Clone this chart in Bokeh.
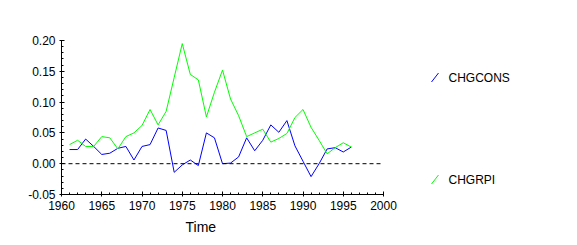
from bokeh.plotting import figure
from bokeh.models import Range1d, FixedTicker, PrintfTickFormatter, Span, Title, ColumnDataSource
from bokeh.layouts import row
from bokeh.core.properties import value
from bokeh.embed import file_html
from bokeh.resources import INLINE

years = list(range(1961, 1997))
chgcons = [0.023, 0.023, 0.040, 0.028, 0.015, 0.017, 0.025, 0.028, 0.006, 0.028,
           0.031, 0.058, 0.054, -0.014, -0.002, 0.006, -0.003, 0.050, 0.042, 0.000,
           0.001, 0.011, 0.042, 0.021, 0.038, 0.063, 0.051, 0.070, 0.029, 0.004,
           -0.021, 0.000, 0.024, 0.026, 0.019, 0.027]
chgrpi = [0.031, 0.038, 0.028, 0.028, 0.044, 0.042, 0.024, 0.044, 0.050, 0.062,
          0.088, 0.063, 0.085, 0.140, 0.195, 0.145, 0.136, 0.076, 0.116, 0.152,
          0.105, 0.078, 0.044, 0.050, 0.056, 0.035, 0.041, 0.049, 0.075, 0.088,
          0.059, 0.038, 0.016, 0.026, 0.034, 0.027]
series_names = ["CHGCONS", "CHGRPI"]
series_colors = ["#0000FF", "#00FF00"]
x_ticks = [1960, 1965, 1970, 1975, 1980, 1985, 1990, 1995, 2000]
y_ticks = [-0.05, 0.00, 0.05, 0.10, 0.15, 0.20]
x_label = "Time"

FONT = "Liberation Sans"

p = figure(width=400, height=245, output_backend="svg", toolbar_location=None,
           x_range=Range1d(1960, 2000), y_range=Range1d(-0.05, 0.20),
           min_border_left=61, min_border_right=17, min_border_top=40, min_border_bottom=51)
p.outline_line_color = None
p.xgrid.visible = False
p.ygrid.visible = False
p.background_fill_color = "white"
p.border_fill_color = "white"

p.line(years, chgcons, line_color=series_colors[0], line_width=1)
p.line(years, chgrpi, line_color=series_colors[1], line_width=1)

p.add_layout(Span(location=0, dimension="width", line_color="black",
                  line_dash="4 3", line_width=1))

minor_x = list(range(x_ticks[0], x_ticks[-1] + 1))
minor_y = [round(y_ticks[0] + 0.01 * i, 2) for i in range(int(round((y_ticks[-1] - y_ticks[0]) / 0.01)) + 1)]
p.xaxis.ticker = FixedTicker(ticks=x_ticks, minor_ticks=minor_x)
p.yaxis.ticker = FixedTicker(ticks=y_ticks, minor_ticks=minor_y)
p.yaxis.formatter = PrintfTickFormatter(format="%.2f")

for ax in (p.xaxis, p.yaxis):
    ax.major_tick_in = 3
    ax.major_tick_out = 2
    ax.minor_tick_in = 2
    ax.minor_tick_out = 0
    ax.axis_line_color = "black"
    ax.major_tick_line_color = "black"
    ax.minor_tick_line_color = "black"
    ax.major_label_text_font = FONT
    ax.major_label_text_font_size = "12px"
    ax.major_label_text_color = "black"
    ax.major_label_standoff = 4

p.add_layout(Title(text=x_label, align="left", offset=124, text_font=FONT,
                   text_font_size="14px", text_font_style="normal",
                   text_color="black", standoff=8), "below")

# legend panel (its frame is aligned with the main plot frame: y 40..194 px)
leg = figure(width=177, height=245, output_backend="svg", toolbar_location=None,
             x_range=Range1d(0, 177), y_range=Range1d(194, 40),
             min_border=0, min_border_left=0, min_border_right=0,
             min_border_top=0, min_border_bottom=0)
leg.axis.visible = False
leg.grid.visible = False
leg.outline_line_color = None
leg.background_fill_color = "white"
leg.border_fill_color = "white"

item_y = [77 + 102 * i for i in range(len(series_names))]
src = ColumnDataSource(dict(
    x0=[31] * len(series_names), x1=[38] * len(series_names),
    y0=[yy + 4.5 for yy in item_y], y1=[yy - 4.5 for yy in item_y],
    tx=[48] * len(series_names), ty=item_y,
    name=series_names, color=series_colors))
leg.segment(x0="x0", y0="y0", x1="x1", y1="y1", line_color="color", line_width=1, source=src)
leg.text(x="tx", y="ty", text="name", text_font=value(FONT), text_font_size="12px",
         text_baseline="middle", text_align="left", text_color="black", source=src)

layout = row(p, leg, spacing=0)
open("out.html", "w").write(file_html(layout, INLINE))
